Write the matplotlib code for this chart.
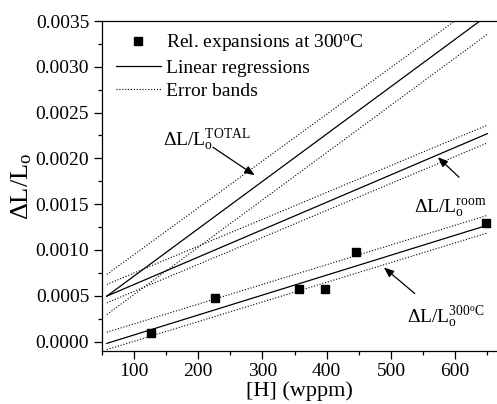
import numpy as np
import matplotlib
matplotlib.use('Agg')
import matplotlib.pyplot as plt
from matplotlib.ticker import MultipleLocator, FormatStrFormatter
from matplotlib.lines import Line2D

plt.rcParams['font.family'] = ['Liberation Serif', 'DejaVu Serif']
plt.rcParams['mathtext.fontset'] = 'custom'
plt.rcParams['mathtext.rm'] = 'Liberation Serif'
plt.rcParams['mathtext.it'] = 'Liberation Serif:italic'

# measured relative expansions at 300 C
h_pts = [127, 226, 357, 397, 445, 648]
dl_pts = [0.000091, 0.000481, 0.000569, 0.000569, 0.000977, 0.00129]

# regression lines and error bands (end points)
x_fit = [58, 650]
fit_300 = [-0.00002, 0.00127]
band_300_hi = [0.000102, 0.001378]
band_300_lo = [-0.000088, 0.001185]
fit_room = [0.000496, 0.00227]
band_room_hi = [0.000624, 0.002363]
band_room_lo = [0.000423, 0.002169]
fit_total = [0.000496, 0.00356]
band_total_hi = [0.000733, 0.00376]
band_total_lo = [0.000295, 0.003356]

fig = plt.figure(figsize=(4.97, 4.04), dpi=100)
ax = fig.add_axes([0.2046, 0.1319, 0.7954, 0.8161])

dots = (0, (1, 1.6))
for y in [fit_300, fit_room, fit_total]:
    ax.plot(x_fit, y, color='black', lw=0.9)
for y in [band_300_hi, band_300_lo, band_room_hi, band_room_lo, band_total_hi, band_total_lo]:
    ax.plot(x_fit, y, color='black', lw=0.8, linestyle=dots)
ax.plot(h_pts, dl_pts, 's', color='black', markersize=6)

ax.set_xlim(50, 665)
ax.set_ylim(-0.0001, 0.0035)
ax.xaxis.set_major_locator(MultipleLocator(100))
ax.xaxis.set_minor_locator(MultipleLocator(50))
ax.yaxis.set_major_locator(MultipleLocator(0.0005))
ax.yaxis.set_minor_locator(MultipleLocator(0.00025))
ax.yaxis.set_major_formatter(FormatStrFormatter('%.4f'))
ax.tick_params(which='major', direction='out', length=6, width=0.9, labelsize=14, pad=3)
ax.tick_params(which='minor', direction='out', length=3, width=0.9)
ax.spines['right'].set_visible(False)
for s in ['left', 'bottom', 'top']:
    ax.spines[s].set_linewidth(0.9)

ax.set_xlabel('[H] (wppm)', fontsize=16, labelpad=1)
ax.set_ylabel(r'ΔL/L$_\mathrm{o}$', fontsize=19, labelpad=1)

tfs = 14
ax.text(145, 0.002144, r'ΔL/L$_\mathrm{o}^\mathrm{TOTAL}$', fontsize=tfs, ha='left', va='baseline')
ax.text(536, 0.001397, r'ΔL/L$_\mathrm{o}^\mathrm{room}$', fontsize=tfs, ha='left', va='baseline')
ax.text(525, 0.000211, r'ΔL/L$_\mathrm{o}^\mathrm{300^oC}$', fontsize=tfs, ha='left', va='baseline')

arrow = dict(arrowstyle='-|>,head_length=0.5,head_width=0.2', color='black', lw=0.9,
             mutation_scale=12, shrinkA=0, shrinkB=0)
ax.annotate('', xy=(288, 0.001816), xytext=(223, 0.002122), arrowprops=arrow)
ax.annotate('', xy=(573, 0.002013), xytext=(606, 0.001794), arrowprops=arrow)
ax.annotate('', xy=(489, 0.000809), xytext=(537, 0.000525), arrowprops=arrow)

handles = [
    Line2D([], [], marker='s', color='black', linestyle='none', markersize=6),
    Line2D([], [], color='black', lw=0.9),
    Line2D([], [], color='black', lw=0.8, linestyle=dots),
]
labels = [r'Rel. expansions at 300$^\mathrm{o}$C', 'Linear regressions', 'Error bands']
ax.legend(handles, labels, loc='upper left', bbox_to_anchor=(0.036, 0.965), frameon=False,
          fontsize=14, handlelength=2.3, handletextpad=0.3, labelspacing=0.28,
          borderaxespad=0, borderpad=0)

fig.savefig('out.png', dpi=100)
